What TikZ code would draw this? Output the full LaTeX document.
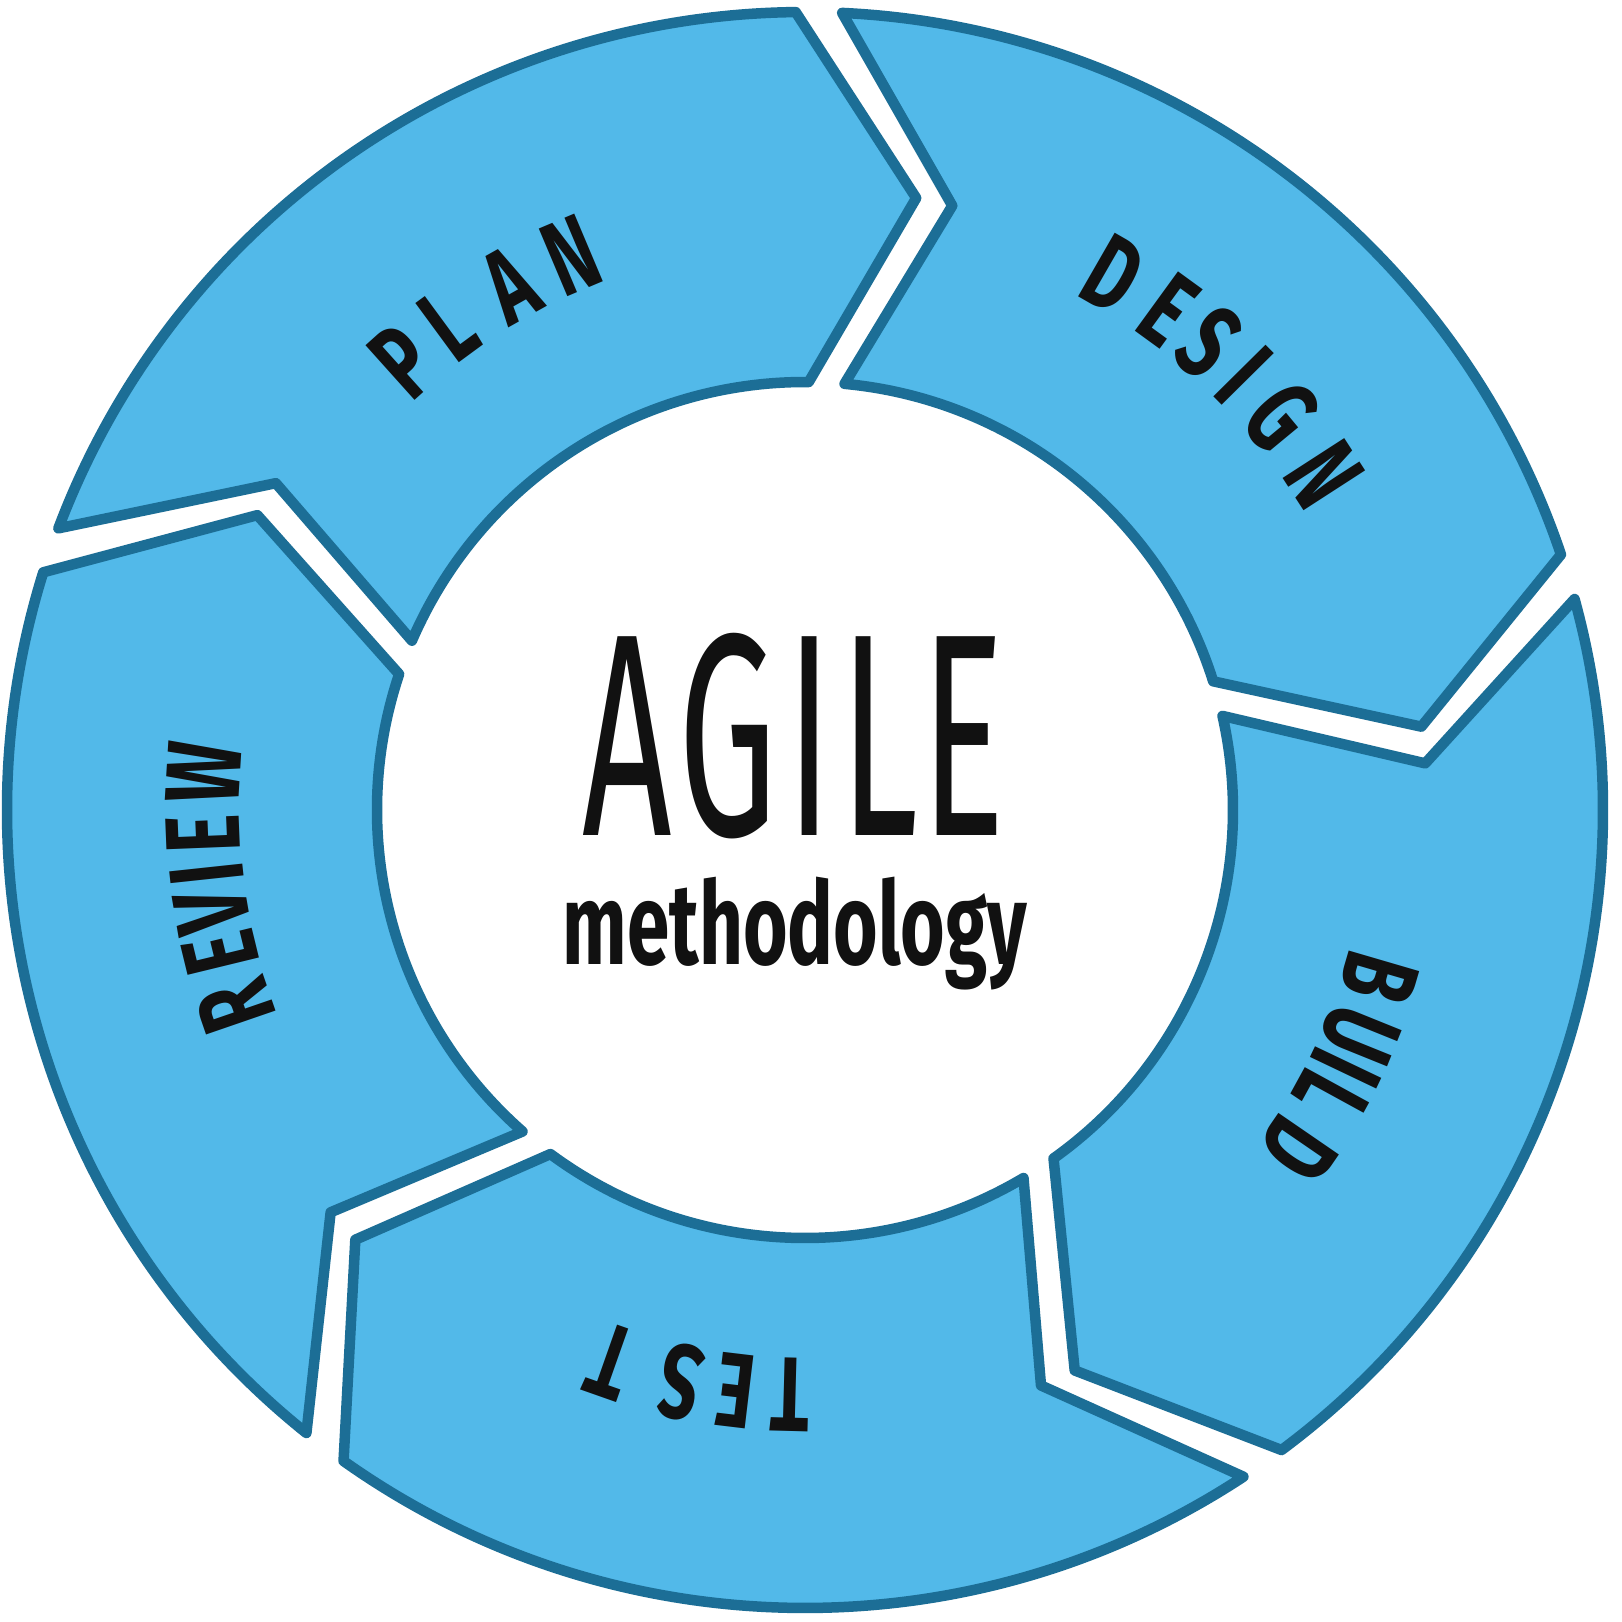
\documentclass[tikz,border=0pt]{standalone}
\usepackage{fontspec}
\setmainfont{Fira Sans}
\usepackage{graphicx}
\definecolor{segfill}{HTML}{52B9E9}
\definecolor{segline}{HTML}{1C6E96}
\definecolor{ink}{HTML}{111111}
\tikzset{
  segment/.style={fill=segfill, draw=segline, line width=10.5pt, line join=round},
  ringletter/.style={text=ink, font=\fontsize{106}{106}\selectfont\bfseries, inner sep=0pt, anchor=center},
  centertext/.style={text=ink, inner sep=0pt, anchor=center}
}
\newcommand{\narrowch}[1]{\scalebox{0.68}[1]{#1}}
\begin{document}
\begin{tikzpicture}[x=1pt,y=1pt]
\fill[white] (-805,-812) rectangle (817,810);
\useasboundingbox (-805,-812) rectangle (817,810);
% five chevron segments, clockwise
\foreach \k in {0,1,2,3,4}{
  \pgfmathsetmacro\S{159.1-72*\k}
  \pgfmathsetmacro\E{\S-72}
  \pgfmathsetmacro\so{\S+0.23}
  \pgfmathsetmacro\sn{\S-10.8}
  \pgfmathsetmacro\si{\S-2.4}
  \pgfmathsetmacro\eo{\E+3.57}
  \pgfmathsetmacro\et{\E-7.4}
  \pgfmathsetmacro\ei{\E+2.4}
  \draw[segment] (\so:798) arc[start angle=\so, end angle=\eo, radius=798]
    -- (\et:622) -- (\ei:428) arc[start angle=\ei, end angle=\si, radius=428]
    -- (\sn:622) -- cycle;
}
% ring labels
\foreach \ch/\a [count=\i] in {P/131.9,L/126.3,A/119.3,N/112.9}
  \node[ringletter, rotate=\a-90] (plan-\i) at (\a:602) {\narrowch{\ch}};
\foreach \ch/\a [count=\i] in {D/60.1,E/54.0,S/49.2,I/44.7,G/39.6,N/32.9}
  \node[ringletter, rotate=\a-90] (design-\i) at (\a:618) {\narrowch{\ch}};
\foreach \ch/\a [count=\i] in {B/-16.3,U/-22.0,I/-25.5,L/-28.7,D/-34.5}
  \node[ringletter, rotate=\a-90] (build-\i) at (\a:599) {\narrowch{\ch}};
\foreach \ch/\a [count=\i] in {T/-91.5,E/-96.8,S/-102.3,T/-109.4}
  \node[ringletter, rotate=\a-90] (test-\i) at (\a:585) {\narrowch{\ch}};
\foreach \ch/\a [count=\i] in {R/199.0,E/193.7,V/189.7,I/186.1,E/182.3,W/176.5}
  \node[ringletter, rotate=\a-90] (review-\i) at (\a:602) {\narrowch{\ch}};
% centre
\node[centertext] (agile) at (-11,74) {\resizebox{422pt}{202pt}{A\kern0.04em G\kern0.06em I\kern0.05em L\kern0.02em E}};
\node[centertext] (meth) at (-10,-123.5) {\resizebox*{464pt}{113pt}{\bfseries methodology}};
\end{tikzpicture}
\end{document}
